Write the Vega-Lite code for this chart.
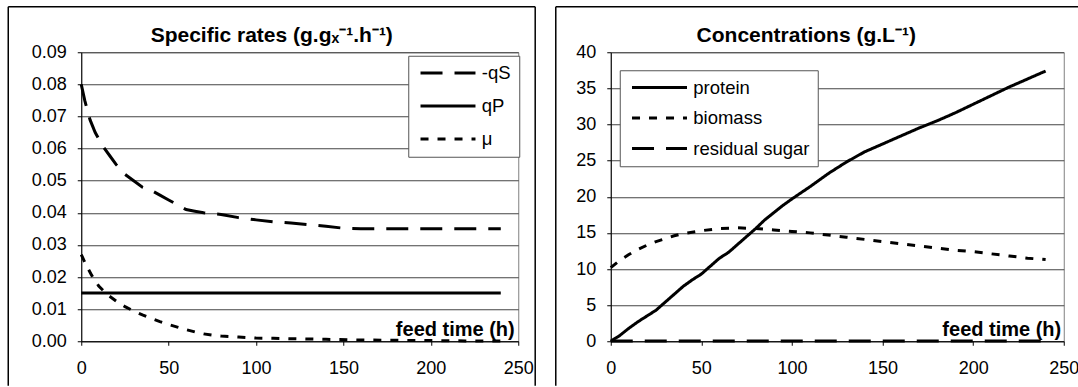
{
 "$schema": "https://vega.github.io/schema/vega-lite/v6.json",
 "background": "white",
 "padding": {"left": 6.25, "top": 5.25, "right": 0, "bottom": 0},
 "spacing": 16.5,
 "resolve": {"scale": {"strokeDash": "independent"}, "legend": {"strokeDash": "independent"}},
 "config": {
  "font": "Liberation Sans",
  "view": {"stroke": "#808080", "strokeWidth": 1},
  "axis": {"labelFont": "Liberation Sans", "labelFontSize": 18, "labelColor": "black", "domainColor": "black", "tickColor": "black", "gridColor": "#444", "gridWidth": 1, "tickSize": 4, "domainWidth": 1, "labelOverlap": false, "labelFlush": false},
  "axisX": {"grid": false, "labelPadding": 14, "titleFontSize": 20, "titleFontWeight": "bold", "titleColor": "black", "titleAnchor": "end", "titleAlign": "right", "titleY": -6, "titleBaseline": "alphabetic"},
  "axisY": {"grid": true, "labelPadding": 11},
  "legend": {"labelFont": "Liberation Sans", "labelFontSize": 18.5, "labelColor": "black"}
 },
 "datasets": {
  "rates": [
   {"t":0,"series":"-qS","value":0.080},{"t":2,"series":"-qS","value":0.075},{"t":5,"series":"-qS","value":0.069},{"t":8,"series":"-qS","value":0.065},{"t":12,"series":"-qS","value":0.061},{"t":16,"series":"-qS","value":0.058},{"t":20,"series":"-qS","value":0.055},{"t":25,"series":"-qS","value":0.052},{"t":30,"series":"-qS","value":0.050},{"t":35,"series":"-qS","value":0.048},{"t":40,"series":"-qS","value":0.047},{"t":45,"series":"-qS","value":0.0455},{"t":50,"series":"-qS","value":0.044},{"t":55,"series":"-qS","value":0.0425},{"t":60,"series":"-qS","value":0.041},{"t":65,"series":"-qS","value":0.0405},{"t":70,"series":"-qS","value":0.040},{"t":80,"series":"-qS","value":0.0395},{"t":90,"series":"-qS","value":0.0385},{"t":100,"series":"-qS","value":0.0378},{"t":110,"series":"-qS","value":0.0372},{"t":120,"series":"-qS","value":0.0368},{"t":130,"series":"-qS","value":0.0363},{"t":140,"series":"-qS","value":0.0358},{"t":150,"series":"-qS","value":0.0352},{"t":160,"series":"-qS","value":0.035},{"t":180,"series":"-qS","value":0.035},{"t":200,"series":"-qS","value":0.035},{"t":220,"series":"-qS","value":0.035},{"t":240,"series":"-qS","value":0.035},
   {"t":0,"series":"qP","value":0.015},{"t":240,"series":"qP","value":0.015},
   {"t":0,"series":"μ","value":0.027},{"t":3,"series":"μ","value":0.0235},{"t":6,"series":"μ","value":0.0205},{"t":10,"series":"μ","value":0.0172},{"t":15,"series":"μ","value":0.0145},{"t":20,"series":"μ","value":0.0125},{"t":25,"series":"μ","value":0.0108},{"t":30,"series":"μ","value":0.0094},{"t":35,"series":"μ","value":0.0082},{"t":40,"series":"μ","value":0.0071},{"t":45,"series":"μ","value":0.0061},{"t":50,"series":"μ","value":0.0052},{"t":55,"series":"μ","value":0.0044},{"t":60,"series":"μ","value":0.0036},{"t":65,"series":"μ","value":0.0029},{"t":70,"series":"μ","value":0.0023},{"t":75,"series":"μ","value":0.0019},{"t":80,"series":"μ","value":0.0016},{"t":90,"series":"μ","value":0.0013},{"t":100,"series":"μ","value":0.0010},{"t":110,"series":"μ","value":0.0009},{"t":120,"series":"μ","value":0.0008},{"t":140,"series":"μ","value":0.0006},{"t":160,"series":"μ","value":0.0004},{"t":180,"series":"μ","value":0.0003},{"t":200,"series":"μ","value":0.0002},{"t":220,"series":"μ","value":0.0001},{"t":240,"series":"μ","value":0.0001}
  ],
  "conc": [
   {"t":0,"series":"protein","value":0},{"t":5,"series":"protein","value":0.8},{"t":10,"series":"protein","value":1.8},{"t":15,"series":"protein","value":2.7},{"t":20,"series":"protein","value":3.5},{"t":25,"series":"protein","value":4.3},{"t":30,"series":"protein","value":5.4},{"t":35,"series":"protein","value":6.5},{"t":40,"series":"protein","value":7.6},{"t":45,"series":"protein","value":8.5},{"t":50,"series":"protein","value":9.3},{"t":55,"series":"protein","value":10.4},{"t":60,"series":"protein","value":11.5},{"t":65,"series":"protein","value":12.3},{"t":70,"series":"protein","value":13.4},{"t":75,"series":"protein","value":14.5},{"t":80,"series":"protein","value":15.6},{"t":85,"series":"protein","value":16.8},{"t":90,"series":"protein","value":17.8},{"t":95,"series":"protein","value":18.8},{"t":100,"series":"protein","value":19.7},{"t":110,"series":"protein","value":21.4},{"t":120,"series":"protein","value":23.2},{"t":130,"series":"protein","value":24.8},{"t":140,"series":"protein","value":26.2},{"t":150,"series":"protein","value":27.3},{"t":160,"series":"protein","value":28.4},{"t":170,"series":"protein","value":29.5},{"t":180,"series":"protein","value":30.5},{"t":190,"series":"protein","value":31.6},{"t":200,"series":"protein","value":32.8},{"t":210,"series":"protein","value":34.0},{"t":220,"series":"protein","value":35.2},{"t":230,"series":"protein","value":36.3},{"t":240,"series":"protein","value":37.4},
   {"t":0,"series":"biomass","value":10.2},{"t":5,"series":"biomass","value":11.2},{"t":10,"series":"biomass","value":12.0},{"t":15,"series":"biomass","value":12.7},{"t":20,"series":"biomass","value":13.3},{"t":25,"series":"biomass","value":13.8},{"t":30,"series":"biomass","value":14.2},{"t":35,"series":"biomass","value":14.6},{"t":40,"series":"biomass","value":14.9},{"t":50,"series":"biomass","value":15.3},{"t":60,"series":"biomass","value":15.6},{"t":70,"series":"biomass","value":15.7},{"t":80,"series":"biomass","value":15.6},{"t":90,"series":"biomass","value":15.4},{"t":100,"series":"biomass","value":15.2},{"t":110,"series":"biomass","value":15.0},{"t":120,"series":"biomass","value":14.7},{"t":130,"series":"biomass","value":14.4},{"t":140,"series":"biomass","value":14.1},{"t":150,"series":"biomass","value":13.8},{"t":160,"series":"biomass","value":13.5},{"t":170,"series":"biomass","value":13.2},{"t":180,"series":"biomass","value":12.9},{"t":190,"series":"biomass","value":12.6},{"t":200,"series":"biomass","value":12.4},{"t":210,"series":"biomass","value":12.1},{"t":220,"series":"biomass","value":11.8},{"t":230,"series":"biomass","value":11.5},{"t":240,"series":"biomass","value":11.3},
   {"t":0,"series":"residual sugar","value":0.05},{"t":120,"series":"residual sugar","value":0.05},{"t":240,"series":"residual sugar","value":0.05}
  ]
 },
 "hconcat": [
  {
   "width": 437, "height": 289,
   "title": {"text": "Specific rates (g.gₓ⁻¹.h⁻¹)", "fontSize": 21, "fontWeight": "bold", "color": "black", "anchor": "middle", "frame": "group", "dx": -28, "offset": -40},
   "layer": [
    {
     "data": {"name": "rates"},
     "mark": {"type": "line", "color": "black", "strokeWidth": 3, "strokeCap": "butt"},
     "encoding": {
      "x": {"field": "t", "type": "quantitative", "scale": {"domain": [0, 250], "nice": false, "zero": false},
            "axis": {"values": [0, 50, 100, 150, 200, 250], "title": "feed time (h)", "titleX": 433}},
      "y": {"field": "value", "type": "quantitative", "scale": {"domain": [0, 0.09], "nice": false, "zero": false},
            "axis": {"values": [0, 0.01, 0.02, 0.03, 0.04, 0.05, 0.06, 0.07, 0.08, 0.09], "format": ".2f", "title": null}},
      "strokeDash": {"field": "series", "type": "nominal",
                     "scale": {"domain": ["-qS", "qP", "μ"], "range": [[22, 12], [1, 0], [8, 9]]},
                     "legend": {"orient": "none", "legendX": 327, "legendY": 3.5, "title": null, "strokeColor": "#555", "fillColor": "white", "padding": 8, "rowPadding": 14, "symbolType": "M-9,0H9", "symbolSize": 37.3, "symbolStrokeWidth": 3, "symbolStrokeColor": "black", "symbolOffset": 22.5, "labelOffset": 24.5}}
     }
    },
    {"data": {"values": [{}]}, "mark": {"type": "rule", "color": "black", "strokeWidth": 1.5, "clip": false},
     "encoding": {"x": {"datum": -41.76, "axis": {"values": [0, 50, 100, 150, 200, 250], "title": "feed time (h)", "titleX": 433}},
                  "y": {"datum": 0.10417, "axis": {"values": [0, 0.01, 0.02, 0.03, 0.04, 0.05, 0.06, 0.07, 0.08, 0.09], "format": ".2f", "title": null}},
                  "y2": {"datum": -0.01386}}},
    {"data": {"values": [{}]}, "mark": {"type": "rule", "color": "black", "strokeWidth": 1.5, "clip": false},
     "encoding": {"x": {"datum": -41.76, "axis": {"values": [0, 50, 100, 150, 200, 250], "title": "feed time (h)", "titleX": 433}},
                  "x2": {"datum": 259.7},
                  "y": {"datum": 0.10417, "axis": {"values": [0, 0.01, 0.02, 0.03, 0.04, 0.05, 0.06, 0.07, 0.08, 0.09], "format": ".2f", "title": null}}}},
    {"data": {"values": [{}]}, "mark": {"type": "rule", "color": "black", "strokeWidth": 1.5, "clip": false},
     "encoding": {"x": {"datum": 259.7, "axis": {"values": [0, 50, 100, 150, 200, 250], "title": "feed time (h)", "titleX": 433}},
                  "y": {"datum": 0.10417, "axis": {"values": [0, 0.01, 0.02, 0.03, 0.04, 0.05, 0.06, 0.07, 0.08, 0.09], "format": ".2f", "title": null}},
                  "y2": {"datum": -0.01386}}}
   ]
  },
  {
   "width": 453, "height": 289,
   "title": {"text": "Concentrations (g.L⁻¹)", "fontSize": 21, "fontWeight": "bold", "color": "black", "anchor": "middle", "frame": "group", "dx": -31, "offset": -40},
   "layer": [
    {
     "data": {"name": "conc"},
     "mark": {"type": "line", "color": "black", "strokeWidth": 3, "strokeCap": "butt"},
     "encoding": {
      "x": {"field": "t", "type": "quantitative", "scale": {"domain": [0, 250], "nice": false, "zero": false},
            "axis": {"values": [0, 50, 100, 150, 200, 250], "title": "feed time (h)", "titleX": 450}},
      "y": {"field": "value", "type": "quantitative", "scale": {"domain": [0, 40], "nice": false, "zero": false},
            "axis": {"values": [0, 5, 10, 15, 20, 25, 30, 35, 40], "title": null}},
      "strokeDash": {"field": "series", "type": "nominal",
                     "scale": {"domain": ["protein", "biomass", "residual sugar"], "range": [[1, 0], [8, 9], [22, 12]]},
                     "legend": {"orient": "none", "legendX": 9, "legendY": 18, "title": null, "strokeColor": "#555", "fillColor": "white", "padding": 8, "rowPadding": 11.5, "symbolType": "M-9,0H9", "symbolSize": 37.3, "symbolStrokeWidth": 3, "symbolStrokeColor": "black", "symbolOffset": 22.5, "labelOffset": 24.5}}
     }
    },
    {"data": {"values": [{}]}, "mark": {"type": "rule", "color": "black", "strokeWidth": 1.5, "clip": false},
     "encoding": {"x": {"datum": -30.34, "axis": {"values": [0, 50, 100, 150, 200, 250], "title": "feed time (h)", "titleX": 450}},
                  "y": {"datum": 46.3, "axis": {"values": [0, 5, 10, 15, 20, 25, 30, 35, 40], "title": null}},
                  "y2": {"datum": -6.16}}},
    {"data": {"values": [{}]}, "mark": {"type": "rule", "color": "black", "strokeWidth": 1.5, "clip": false},
     "encoding": {"x": {"datum": -30.34, "axis": {"values": [0, 50, 100, 150, 200, 250], "title": "feed time (h)", "titleX": 450}},
                  "x2": {"datum": 258.5},
                  "y": {"datum": 46.3, "axis": {"values": [0, 5, 10, 15, 20, 25, 30, 35, 40], "title": null}}}}
   ]
  }
 ]
}
